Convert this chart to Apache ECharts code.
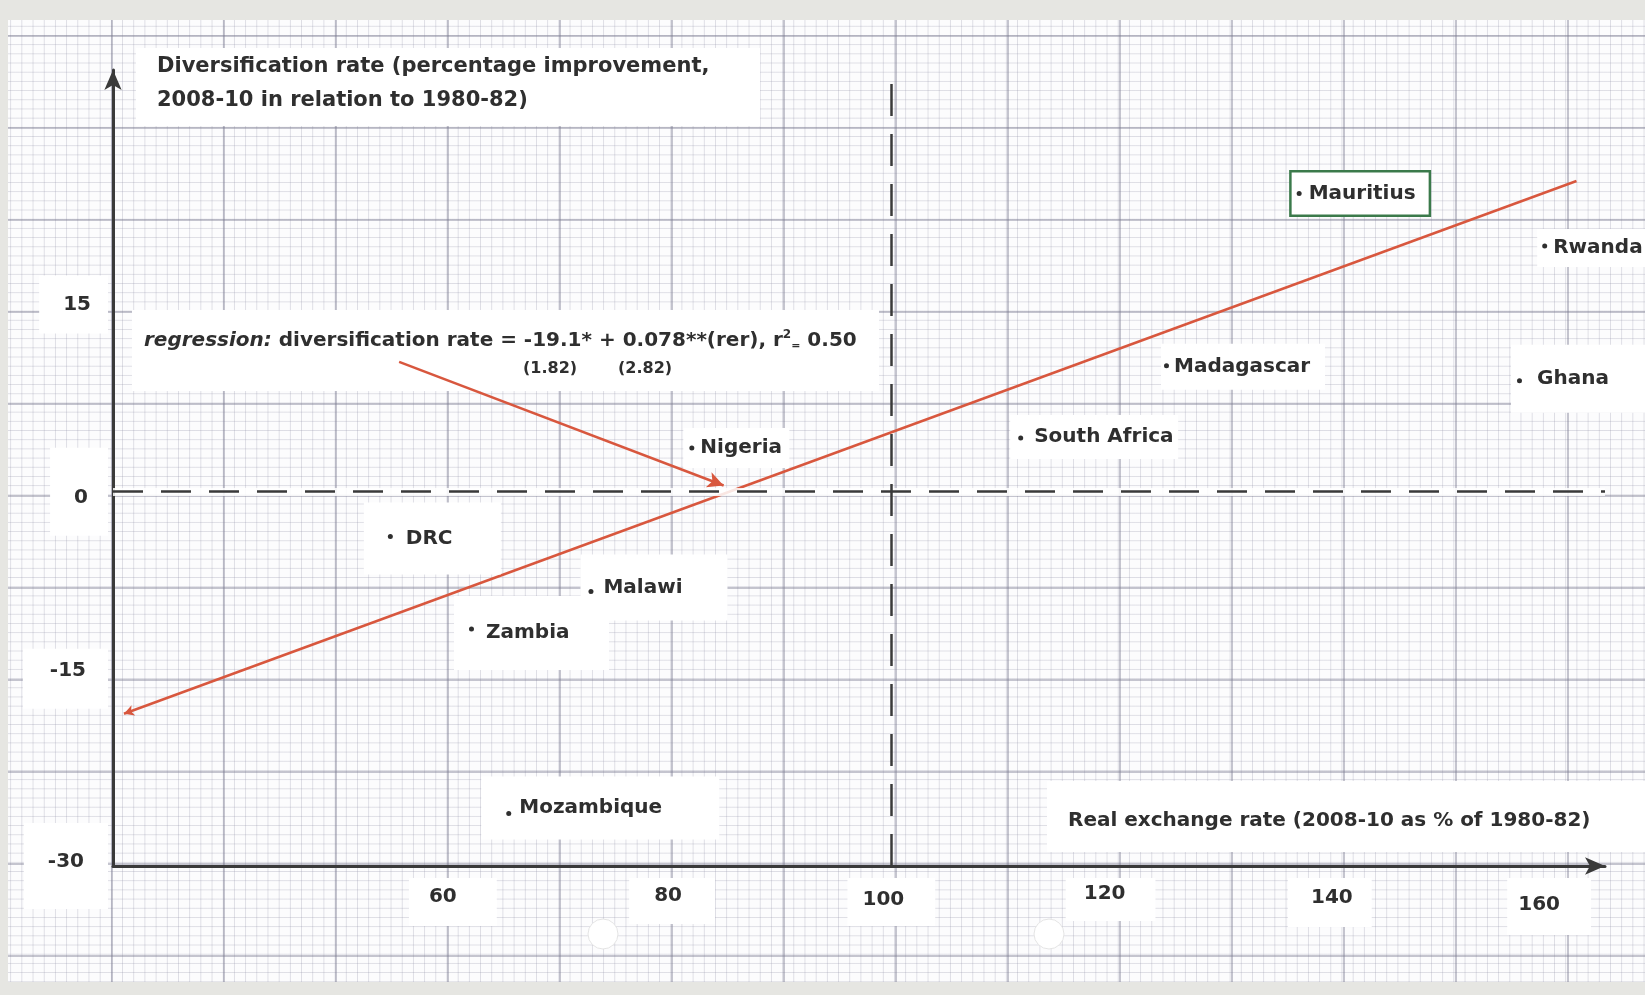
<!DOCTYPE html>
<html>
<head>
<meta charset="utf-8">
<script src="https://cdn.jsdelivr.net/npm/echarts@6/dist/echarts.min.js"></script>
<style>
  html, body { margin: 0; padding: 0; width: 1645px; height: 995px; overflow: hidden; background: #e6e6e2; }
  #paper {
    position: absolute; left: 8px; top: 20px; width: 1637px; height: 962px;
    background-color: #fcfcfd;
    background-image:
      linear-gradient(to right, rgba(120,120,142,0.42) 0, rgba(120,120,142,0.42) 1.6px, transparent 1.6px),
      linear-gradient(to bottom, rgba(120,120,142,0.42) 0, rgba(120,120,142,0.42) 1.6px, transparent 1.6px),
      linear-gradient(to right, rgba(145,145,168,0.29) 0, rgba(145,145,168,0.29) 1px, transparent 1px),
      linear-gradient(to bottom, rgba(145,145,168,0.29) 0, rgba(145,145,168,0.29) 1px, transparent 1px);
    background-size: 112px 100%, 100% 92px, 11.2px 100%, 100% 9.2px;
    background-position: 103px 0, 0 15px, 2.2px 0, 0 5.8px;
  }
  #chart { position: absolute; left: 0; top: 0; width: 1645px; height: 995px; }
</style>
</head>
<body>
<div id="paper"></div>
<div id="chart"></div>
<script>
// ---------- data ----------
const countries = ['Mauritius', 'Rwanda', 'Madagascar', 'Ghana', 'South Africa',
                   'Nigeria', 'DRC', 'Malawi', 'Zambia', 'Mozambique'];
const realExchangeRate = [137.2, 159.6, 125.1, 157.3, 111.8, 81.8, 54.3, 72.6, 61.7, 65.1];
const diversificationRate = [23.9, 19.7, 10.1, 8.9, 4.3, 3.5, -3.6, -8.0, -11.0, -25.8];
const fitLineRer = [30.0, 162.5];
const fitLineDiv = [-17.8, 24.9];
const pointerStart = [55.1, 10.4];
const pointerEnd = [84.7, 0.5];
const xTickLabels = [60, 80, 100, 120, 140, 160];
const yTickLabels = [-30, -15, 0, 15];

// ---------- styles ----------
const FONT = '"DejaVu Sans", "Open Sans", sans-serif';
const INK = '#2f2f2f';
const RED = '#d8573e';

// label box geometry: [left extent, gap to text, right extent, top extent, bottom extent]
const labelBox = {
  'Mauritius': [8, 9, 129, 22, 22],
  'Rwanda': [8, 8, 112, 18, 22],
  'Madagascar': [6, 7, 158, 23, 25],
  'Ghana': [9, 17, 130, 37, 33],
  'South Africa': [11, 13, 157, 24, 22],
  'Nigeria': [9, 8, 97, 21, 21],
  'DRC': [27, 15, 110, 35, 39],
  'Malawi': [11, 12, 136, 38, 30],
  'Zambia': [18, 14, 137, 34, 42],
  'Mozambique': [28, 10, 210, 38, 27]
};
function labelFor(name) {
  const [l, g, r, t, b] = labelBox[name];
  const lab = {
    offset: [-l, (b - t) / 2],
    padding: [t - 8, 4, b - 14, l + g],
    width: r - g - 4
  };
  if (name === 'Mauritius') { lab.borderColor = '#3b7a4b'; lab.borderWidth = 2.5; }
  return lab;
}

const xKey = {60: 'a', 80: 'b', 100: 'c', 120: 'd', 140: 'e', 160: 'f'};
const xPad = {a: [9, 40, 19, 20], b: [8, 33, 18, 25], c: [12, 31, 16, 15],
              d: [6, 30, 17, 18], e: [10, 19, 19, 23], f: [17, 31, 20, 11]};
const yKey = {'-30': 'a', '-15': 'b', '0': 'c', '15': 'd'};
const yPad = {a: [29, 24, 37, 24], b: [12, 22, 28, 27], c: [40, 20, 28, 24], d: [19, 17, 19, 24]};
function richFrom(pads) {
  const out = {};
  Object.keys(pads).forEach(k => {
    out[k] = {padding: pads[k], backgroundColor: '#ffffff', fontSize: 20,
              fontWeight: 'bold', fontFamily: FONT, color: INK};
  });
  return out;
}

const chart = echarts.init(document.getElementById('chart'), null, {renderer: 'canvas'});

const option = {
  animation: false,
  backgroundColor: 'transparent',
  textStyle: {fontFamily: FONT, color: INK},
  grid: {left: 113, top: 70, right: 40, bottom: 129, containLabel: false},
  xAxis: {
    type: 'value', min: 29, max: 165.1,
    axisLine: {onZero: false, symbol: ['none', 'arrow'], symbolSize: [13, 20],
               lineStyle: {color: '#3a3a3a', width: 3}},
    axisTick: {show: false}, splitLine: {show: false},
    axisLabel: {customValues: xTickLabels, margin: 12,
                formatter: v => '{' + xKey[v] + '|' + v + '}', rich: richFrom(xPad)}
  },
  yAxis: {
    type: 'value', min: -30, max: 33.8,
    axisLine: {onZero: false, symbol: ['none', 'arrow'], symbolSize: [13, 20],
               lineStyle: {color: '#3a3a3a', width: 3}},
    axisTick: {show: false}, splitLine: {show: false},
    axisLabel: {customValues: yTickLabels, margin: 5,
                formatter: v => '{' + yKey[String(v)] + '|' + v + '}', rich: richFrom(yPad)}
  },
  graphic: [
    {type: 'text', left: 136, top: 48, z: 1, silent: true,
     style: {text: 'Diversification rate (percentage improvement,\n2008-10 in relation to 1980-82)',
             fill: INK, fontSize: 21, fontWeight: 'bold', fontFamily: FONT, lineHeight: 34,
             backgroundColor: '#ffffff', padding: [2, 10, 8, 21], width: 593}},
    {type: 'text', left: 1047, top: 781, z: 1, silent: true,
     style: {text: 'Real exchange rate (2008-10 as % of 1980-82)',
             fill: INK, fontSize: 20, fontWeight: 'bold', fontFamily: FONT, lineHeight: 22,
             backgroundColor: '#ffffff', padding: [29, 0, 20, 21], width: 580}},
    {type: 'text', left: 132, top: 310, z: 1, silent: true,
     style: {text: '{it|regression:} diversification rate = -19.1* + 0.078**(rer), r{sup|2}{sm|=} 0.50\n{sp| }{p1|(1.82)}{p|(2.82)}',
             fill: INK, fontSize: 20, fontWeight: 'bold', fontFamily: FONT, lineHeight: 28,
             backgroundColor: '#ffffff', padding: [17, 10, 8, 12], width: 725,
             rich: {
               it: {fontStyle: 'italic', fontWeight: 'bold', fontSize: 20, fontFamily: FONT, fill: INK},
               sup: {fontSize: 12, fontWeight: 'bold', fontFamily: FONT, fill: INK, padding: [0, 0, 12, 0]},
               sm: {fontSize: 11, fontWeight: 'bold', fontFamily: FONT, fill: INK, padding: [10, 0, 0, 0]},
               sp: {width: 379},
               p1: {width: 95, fontSize: 16, fontWeight: 'bold', fontFamily: FONT, fill: INK},
               p: {fontSize: 16, fontWeight: 'bold', fontFamily: FONT, fill: INK}
             }}},
    {type: 'circle', shape: {cx: 603, cy: 934, r: 15}, z: 1, silent: true,
     style: {fill: '#ffffff', stroke: '#e4e4e4', lineWidth: 1}},
    {type: 'circle', shape: {cx: 1049, cy: 934, r: 15}, z: 1, silent: true,
     style: {fill: '#ffffff', stroke: '#e4e4e4', lineWidth: 1}}
  ],
  series: [
    {
      name: 'regression', type: 'line', z: 2, silent: true,
      data: [
        {value: [fitLineRer[0], fitLineDiv[0]], symbol: 'arrow', symbolSize: [8, 10], symbolRotate: 110},
        {value: [fitLineRer[1], fitLineDiv[1]], symbol: 'none'}
      ],
      showSymbol: true,
      itemStyle: {color: RED},
      lineStyle: {color: RED, width: 2.5},
      markLine: {
        silent: true, symbol: ['none', 'none'], label: {show: false},
        emphasis: {disabled: true}, animation: false,
        data: [
          {yAxis: 0, lineStyle: {color: 'rgba(255,255,255,0.85)', width: 8, type: 'solid'}},
          {yAxis: 0, lineStyle: {color: '#3a3a3a', width: 2.5, type: [30, 18]}},
          {xAxis: 100, lineStyle: {color: '#3a3a3a', width: 2.5, type: [32, 18]}},
          [
            {coord: pointerStart, symbol: 'none'},
            {coord: pointerEnd, symbol: 'arrow', symbolSize: [12, 16],
             lineStyle: {color: RED, width: 2.5, type: 'solid'}}
          ]
        ]
      }
    },
    {
      name: 'country labels', type: 'scatter', z: 3, silent: true,
      symbolSize: 1, itemStyle: {color: 'rgba(0,0,0,0)', opacity: 1},
      label: {show: true, position: 'right', distance: 0, formatter: '{b}',
              fontSize: 20, fontWeight: 'bold', fontFamily: FONT, color: INK,
              backgroundColor: '#ffffff', opacity: 1},
      data: countries.map((name, i) => ({
        name: name, value: [realExchangeRate[i], diversificationRate[i]], label: labelFor(name)
      }))
    },
    {
      name: 'countries', type: 'scatter', z: 4, silent: true,
      symbolSize: 5, itemStyle: {color: INK, opacity: 1},
      data: countries.map((name, i) => ({name: name, value: [realExchangeRate[i], diversificationRate[i]]}))
    }
  ]
};
chart.setOption(option);
</script>
</body>
</html>
